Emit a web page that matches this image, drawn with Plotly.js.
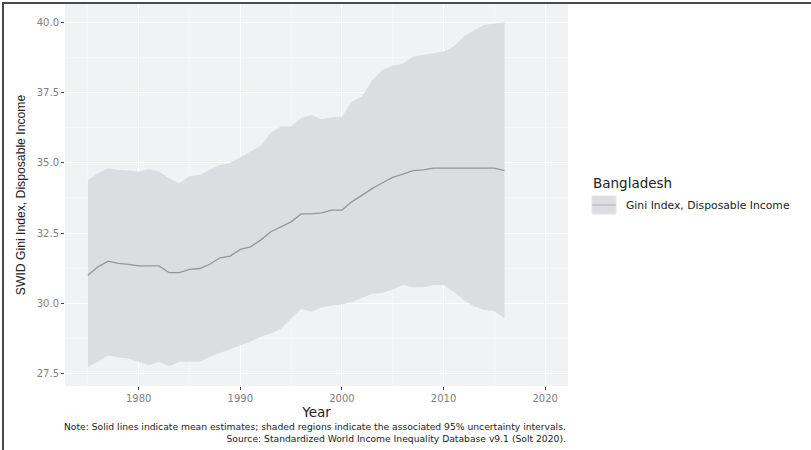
<!DOCTYPE html>
<html>
<head>
<meta charset="utf-8">
<script src="https://cdn.plot.ly/plotly-3.0.1.min.js"></script>
<style>
  html, body { margin: 0; padding: 0; background: #ffffff; }
  #wrap { position: relative; width: 811px; height: 450px; overflow: hidden; }
  #chart { width: 811px; height: 450px; }
  #frame { position: absolute; left: 2px; top: 2px; right: -10px; bottom: -10px;
           border-top: 2px solid #4a4a4a; border-left: 2px solid #4a4a4a; pointer-events: none; }
</style>
</head>
<body>
<div id="wrap"><div id="chart"></div><div id="frame"></div></div>
<script>
const years = [1975,1976,1977,1978,1979,1980,1981,1982,1983,1984,1985,1986,1987,1988,1989,1990,1991,1992,1993,1994,1995,1996,1997,1998,1999,2000,2001,2002,2003,2004,2005,2006,2007,2008,2009,2010,2011,2012,2013,2014,2015,2016];
const giniMean = [31.0,31.3,31.5,31.42,31.39,31.33,31.33,31.33,31.09,31.09,31.21,31.24,31.39,31.62,31.68,31.92,32.01,32.25,32.55,32.73,32.9,33.18,33.18,33.22,33.32,33.32,33.62,33.85,34.09,34.29,34.48,34.6,34.72,34.75,34.81,34.81,34.81,34.81,34.81,34.81,34.81,34.72];
const giniUpper = [34.39,34.63,34.81,34.75,34.73,34.69,34.78,34.69,34.45,34.27,34.53,34.57,34.75,34.92,35.0,35.2,35.38,35.6,36.07,36.29,36.29,36.59,36.7,36.55,36.62,36.64,37.18,37.36,37.95,38.31,38.45,38.52,38.78,38.84,38.92,38.96,39.14,39.49,39.71,39.91,39.95,40.0];
const giniLower = [27.74,27.92,28.15,28.07,28.04,27.92,27.8,27.92,27.76,27.92,27.92,27.92,28.1,28.24,28.36,28.51,28.63,28.81,28.93,29.1,29.46,29.8,29.7,29.85,29.92,29.96,30.05,30.21,30.35,30.37,30.49,30.65,30.57,30.57,30.65,30.65,30.41,30.11,29.9,29.76,29.73,29.46];
const xTicks = [1980,1990,2000,2010,2020];
const yTicks = [27.5,30.0,32.5,35.0,37.5,40.0];
const yTickText = ['27.5','30.0','32.5','35.0','37.5','40.0'];

const country = 'Bangladesh';
const seriesName = 'Gini Index, Disposable Income';
const noteLine1 = 'Note: Solid lines indicate mean estimates; shaded regions indicate the associated 95% uncertainty intervals.';
const noteLine2 = 'Source: Standardized World Income Inequality Database v9.1 (Solt 2020).';

const ribbonColor = '#dcdde0';
const lineColor = '#969696';
const tickFont = {family: 'DejaVu Sans', size: 10, color: '#808080'};

const traces = [
  {x: years, y: giniLower, type: 'scatter', mode: 'lines', line: {width: 0, color: ribbonColor},
   showlegend: false, hoverinfo: 'skip'},
  {x: years, y: giniUpper, type: 'scatter', mode: 'lines', line: {width: 0, color: ribbonColor},
   fill: 'tonexty', fillcolor: ribbonColor, showlegend: false, hoverinfo: 'skip'},
  {x: years, y: giniMean, type: 'scatter', mode: 'lines', line: {width: 1.3, color: lineColor},
   name: seriesName, showlegend: false}
];

// paper helpers for the plot area (l=65, w=503, t=4, h=382)
const L = 65, W = 503, T = 4, H = 382;
const px = v => (v - L) / W;
const py = v => (T + H - v) / H;

const layout = {
  width: 811, height: 450,
  margin: {l: L, r: 811 - L - W, t: T, b: 450 - T - H, pad: 0},
  paper_bgcolor: '#ffffff',
  plot_bgcolor: '#f1f2f4',
  showlegend: false,
  xaxis: {
    range: [1972.75, 2022.25], tickvals: xTicks, ticks: 'outside', ticklen: 3, tickwidth: 1,
    tickcolor: '#444444', tickfont: tickFont, showgrid: true, gridcolor: '#ffffff', gridwidth: 1.1,
    zeroline: false, showline: false,
    minor: {tick0: 1975, dtick: 10, showgrid: true, gridcolor: '#f8f8f9', gridwidth: 0.6, ticks: ''},
    title: {text: 'Year', font: {family: 'DejaVu Sans', size: 13.5, color: '#222222'}, standoff: 4}
  },
  yaxis: {
    range: [27.06, 40.65], tickvals: yTicks, ticktext: yTickText, ticks: 'outside', ticklen: 3, tickwidth: 1,
    tickcolor: '#444444', tickfont: tickFont, showgrid: true, gridcolor: '#ffffff', gridwidth: 1.1,
    zeroline: false, showline: false,
    minor: {tick0: 28.75, dtick: 2.5, showgrid: true, gridcolor: '#f8f8f9', gridwidth: 0.6, ticks: ''},
    title: {text: 'SWID Gini Index, Disposable Income',
            font: {family: 'Liberation Sans, sans-serif', size: 12.2, color: '#222222'}, standoff: 8}
  },
  shapes: [
    {type: 'rect', xref: 'paper', yref: 'paper', x0: px(592), x1: px(616), y0: py(214), y1: py(196),
     fillcolor: ribbonColor, line: {color: '#e6e6e8', width: 1}},
    {type: 'line', xref: 'paper', yref: 'paper', x0: px(592), x1: px(616), y0: py(205), y1: py(205),
     line: {color: '#b0b0b0', width: 1}}
  ],
  annotations: [
    {text: country, xref: 'paper', yref: 'paper', x: px(591), y: py(183), xanchor: 'left', yanchor: 'middle',
     showarrow: false, font: {family: 'DejaVu Sans', size: 13.5, color: '#222222'}},
    {text: seriesName, xref: 'paper', yref: 'paper', x: px(624), y: py(205), xanchor: 'left', yanchor: 'middle',
     showarrow: false, font: {family: 'DejaVu Sans', size: 10.8, color: '#222222'}},
    {text: noteLine1 + '<br>' + noteLine2, xref: 'paper', yref: 'paper', x: px(568), y: py(432), xanchor: 'right',
     yanchor: 'middle', align: 'right', showarrow: false,
     font: {family: 'DejaVu Sans', size: 9.2, color: '#222222'}}
  ]
};

Plotly.newPlot('chart', traces, layout, {displayModeBar: false, staticPlot: true});
</script>
</body>
</html>
